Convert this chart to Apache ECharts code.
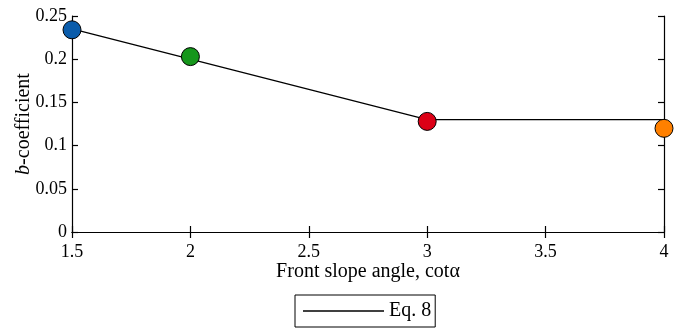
<!DOCTYPE html>
<html>
<head>
<meta charset="utf-8">
<script src="https://cdn.jsdelivr.net/npm/echarts@6/dist/echarts.min.js"></script>
<style>
  html, body { margin: 0; padding: 0; background: #fff; }
  #chart { width: 681px; height: 331px; }
</style>
</head>
<body>
<div id="chart"></div>
<script>
// Eq. 8 fitted curve (cot alpha vs b-coefficient)
const eqX = [1.5, 3, 4];
const eqY = [0.235, 0.13, 0.13];

// Measured b-coefficients per front slope angle
const pointX = [1.5, 2, 3, 4];
const pointY = [0.234, 0.203, 0.128, 0.120];
const pointColors = ['#0a5cab', '#15961b', '#dc0016', '#ff8000'];

const xTicks = [1.5, 2, 2.5, 3, 3.5, 4];
const yTicks = [0, 0.05, 0.1, 0.15, 0.2, 0.25];

const FONT = '"Liberation Serif", "Times New Roman", serif';

const chart = echarts.init(document.getElementById('chart'));

const tickStyle = { show: true, inside: true, length: 6, lineStyle: { color: '#000', width: 1.2 } };
const lineStyle = { show: true, lineStyle: { color: '#000', width: 1.2 } };

const option = {
  animation: false,
  backgroundColor: '#fff',
  grid: { left: 72, right: 17, top: 16, bottom: 99, containLabel: false, outerBoundsMode: 'none' },
  xAxis: [
    {
      type: 'value', min: xTicks[0], max: xTicks[xTicks.length - 1], interval: 0.5,
      position: 'bottom',
      axisLine: lineStyle, axisTick: tickStyle, splitLine: { show: false },
      axisLabel: { color: '#000', fontFamily: FONT, fontSize: 18, margin: 11 },
      name: 'Front slope angle, cot\u03b1', nameLocation: 'middle', nameGap: 30,
      nameMoveOverlap: false,
      nameTextStyle: { color: '#000', fontFamily: FONT, fontSize: 20 }
    },
    {
      type: 'value', min: xTicks[0], max: xTicks[xTicks.length - 1], interval: 0.5,
      position: 'top',
      axisLine: lineStyle, axisTick: tickStyle, splitLine: { show: false },
      axisLabel: { show: false }
    }
  ],
  yAxis: [
    {
      type: 'value', min: yTicks[0], max: yTicks[yTicks.length - 1], interval: 0.05,
      position: 'left',
      axisLine: lineStyle, axisTick: tickStyle, splitLine: { show: false },
      axisLabel: { color: '#000', fontFamily: FONT, fontSize: 18, margin: 5 },
      name: '{i|b}-coefficient', nameLocation: 'middle', nameGap: 38, nameRotate: 90,
      nameMoveOverlap: false,
      nameTextStyle: {
        color: '#000', fontFamily: FONT, fontSize: 20,
        rich: { i: { fontStyle: 'italic', fontFamily: FONT, fontSize: 20, color: '#000' } }
      }
    },
    {
      type: 'value', min: yTicks[0], max: yTicks[yTicks.length - 1], interval: 0.05,
      position: 'right',
      axisLine: lineStyle, axisTick: tickStyle, splitLine: { show: false },
      axisLabel: { show: false }
    }
  ],
  legend: {
    data: [{ name: 'Eq. 8', icon: 'rect' }],
    bottom: 4, left: 295,
    orient: 'horizontal',
    itemWidth: 81, itemHeight: 1.5, itemGap: 6,
    padding: [6, 4, 6, 8],
    borderColor: '#000', borderWidth: 1, borderRadius: 0,
    textStyle: { color: '#000', fontFamily: FONT, fontSize: 20 }
  },
  series: [
    {
      name: 'Eq. 8', type: 'line',
      data: eqX.map((x, i) => [x, eqY[i]]),
      symbol: 'none',
      lineStyle: { color: '#000', width: 1.3 },
      itemStyle: { color: '#000' },
      z: 2
    },
    {
      name: 'points', type: 'scatter',
      data: pointX.map((x, i) => ({
        value: [x, pointY[i]],
        itemStyle: { color: pointColors[i], opacity: 1 }
      })),
      symbol: 'circle', symbolSize: 18,
      itemStyle: { borderColor: '#000', borderWidth: 1, opacity: 1 },
      clip: false,
      z: 3
    }
  ]
};

chart.setOption(option);
</script>
</body>
</html>
